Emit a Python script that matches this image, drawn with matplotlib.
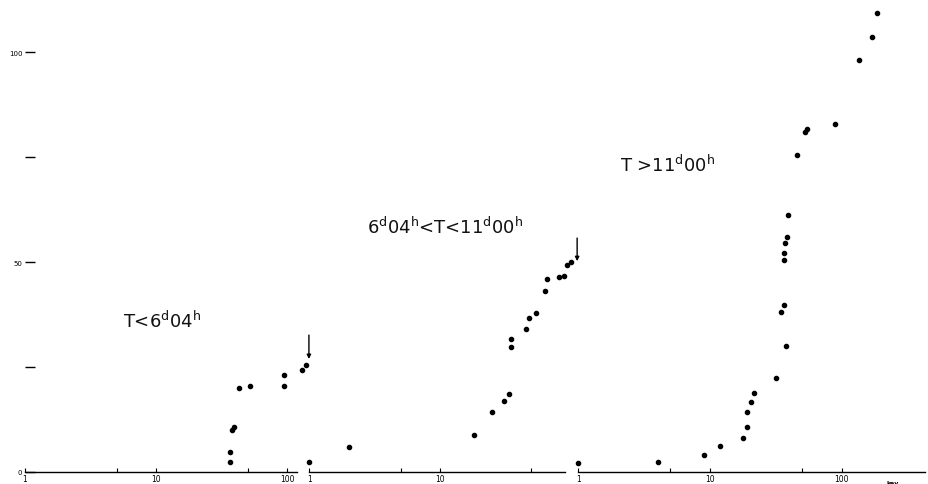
import numpy as np
import matplotlib
matplotlib.use("Agg")
import matplotlib.pyplot as plt
from matplotlib.ticker import FixedLocator, NullFormatter

# counts vs energy (keV), three time intervals
p1_x = [37, 37, 38, 39.6, 43, 52, 95, 95, 131, 140]
p1_y = [2.5, 4.7, 10, 10.8, 20, 20.4, 20.4, 23.2, 24.4, 25.5]

p2_x = [1, 2.0, 18.2, 24.8, 31, 33.6, 34.9, 34.7, 45.5, 48.2, 54, 64, 65.9,
        81, 89.5, 93, 100]
p2_y = [2.3, 5.9, 8.9, 14.2, 16.8, 18.6, 29.7, 31.7, 34, 36.6, 37.9, 43.2,
        45.9, 46.4, 46.6, 49.4, 49.9]

p3_x = [1, 4.0, 9.0, 12, 17.9, 19, 19.1, 20.5, 21.7, 31.7, 38, 34.4, 36.6,
        36.6, 36.6, 37.3, 38.7, 39.1, 45.8, 52.4, 54.8, 89.4, 135, 171, 185]
p3_y = [2.1, 2.3, 4.0, 6.2, 8.1, 10.7, 14.3, 16.7, 18.7, 22.4, 29.9, 38, 39.7,
        50.5, 52.2, 54.6, 55.9, 61.3, 75.5, 81, 81.7, 82.8, 98.2, 103.6, 109.3]

labels = [r'T<6$^{\mathrm{d}}$04$^{\mathrm{h}}$',
          r'6$^{\mathrm{d}}$04$^{\mathrm{h}}$<T<11$^{\mathrm{d}}$00$^{\mathrm{h}}$',
          r'T >11$^{\mathrm{d}}$00$^{\mathrm{h}}$']
label_pos = [(5.6, 34.5), (2.75, 57), (2.07, 71.6)]
arrow_pos = [(147, 32.6, 26.9), (112, 55.7, 50.2)]

W, H = 929, 485
fig = plt.figure(figsize=(W / 100, H / 100), dpi=100)

y0 = 473           # pixel row of zero
ppu = 4.2          # pixels per count
ymax = y0 / ppu

# (left px, right px, px per decade, xmax of axis line)
panels = [(25, 309.3, 131.0, 120), (309.3, 578.3, 130.7, 90), (578.3, 929, 131.7, 430)]
data = [(p1_x, p1_y), (p2_x, p2_y), (p3_x, p3_y)]

axes = []
for i, (l, r, dec, xend) in enumerate(panels):
    ax = fig.add_axes([l / W, (H - y0) / H, (r - l) / W, y0 / H])
    ax.set_xscale('log')
    ax.set_xlim(1, 10 ** ((r - l) / dec))
    ax.set_ylim(0, ymax)
    for s in ['top', 'right', 'left']:
        ax.spines[s].set_visible(False)
    ax.spines['bottom'].set_bounds(1, xend)
    ax.spines['bottom'].set_linewidth(1.0)
    ax.patch.set_visible(False)

    ax.xaxis.set_major_locator(FixedLocator([1, 10, 100]))
    ax.xaxis.set_minor_locator(FixedLocator([5, 50]))
    ax.xaxis.set_minor_formatter(NullFormatter())
    if i == 1:
        ax.set_xticks([1, 10])
    ax.set_xticklabels(['1', '10', '100'][:len(ax.get_xticks())])
    ax.tick_params(axis='x', which='both', direction='in', length=3, width=0.8,
                   labelsize=5.5, pad=1.5)

    if i == 0:
        ax.set_yticks([0, 25, 50, 75, 100])
        ax.set_yticklabels(['0', '', '50', '', '100'])
        ax.tick_params(axis='y', direction='in', length=7, width=1.0,
                       labelsize=5, pad=2)
    else:
        ax.set_yticks([])

    xs, ys = data[i]
    ax.plot(xs, ys, 'o', color='black', markersize=3.0, clip_on=False)
    ax.text(label_pos[i][0], label_pos[i][1], labels[i], fontsize=13,
            color='#111111', ha='left', va='baseline')
    if i < 2:
        ax_, yt, yb = arrow_pos[i]
        ax.annotate('', xy=(ax_, yb), xytext=(ax_, yt),
                    arrowprops=dict(arrowstyle='-|>', color='black', lw=1.0,
                                    mutation_scale=6, shrinkA=0, shrinkB=0),
                    annotation_clip=False)
    axes.append(ax)

axes[2].text(245, -1.8, 'kev', fontsize=4.5, fontweight='bold', ha='center',
             va='top', transform=axes[2].transData)

fig.savefig('out.png', dpi=100)
